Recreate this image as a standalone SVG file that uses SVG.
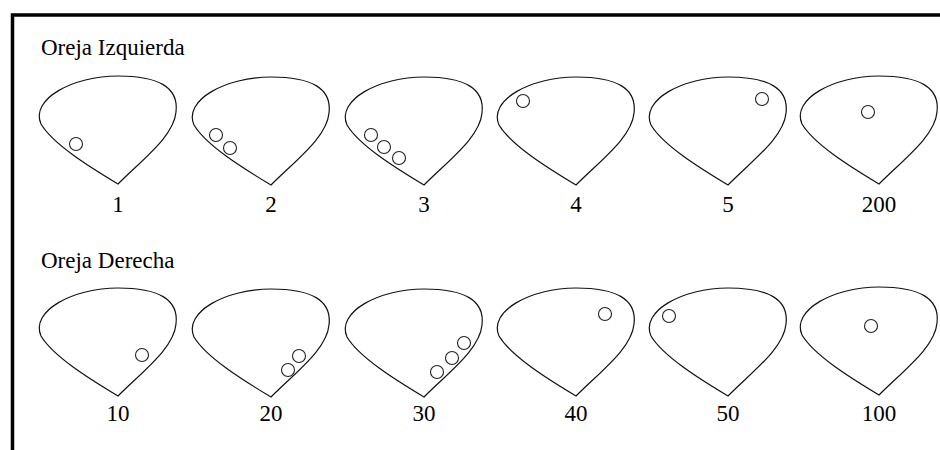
<svg xmlns="http://www.w3.org/2000/svg" xmlns:xlink="http://www.w3.org/1999/xlink" width="940" height="450" viewBox="0 0 940 450">
<style>
.ear{fill:none;stroke:#111;stroke-width:1.2}
.dot{fill:none;stroke:#222;stroke-width:1.1}
.t{font-family:"Liberation Serif","Times New Roman",serif;font-size:23px;fill:#000}
.lbl{text-anchor:middle}
.frame{fill:none;stroke:#000;stroke-width:3.5}
</style>
<defs>
<path id="ear" d="M0,0 C -30,-18 -65,-40 -77,-60 C -88,-85 -45,-108 0,-108 C 40,-108 61,-97 58,-72 C 56,-48 25,-25 0,0 Z"/>
</defs>
<rect width="940" height="450" fill="#fff"/>
<path class="frame" d="M12.5,450 V15 H940"/>
<text class="t" x="41" y="55">Oreja Izquierda</text>
<text class="t" x="41" y="268">Oreja Derecha</text>
<g id="ear1"><use xlink:href="#ear" class="ear" transform="translate(118,184)"/><circle class="dot" cx="76" cy="144" r="6.5"/><text class="t lbl" x="118" y="212">1</text></g>
<g id="ear2"><use xlink:href="#ear" class="ear" transform="translate(271,185)"/><circle class="dot" cx="216" cy="135" r="6.5"/><circle class="dot" cx="230" cy="148" r="6.5"/><text class="t lbl" x="271" y="212">2</text></g>
<g id="ear3"><use xlink:href="#ear" class="ear" transform="translate(424,185)"/><circle class="dot" cx="371" cy="135" r="6.5"/><circle class="dot" cx="384" cy="147" r="6.5"/><circle class="dot" cx="399" cy="158" r="6.5"/><text class="t lbl" x="424" y="212">3</text></g>
<g id="ear4"><use xlink:href="#ear" class="ear" transform="translate(576,185)"/><circle class="dot" cx="523" cy="101" r="6.5"/><text class="t lbl" x="576" y="212">4</text></g>
<g id="ear5"><use xlink:href="#ear" class="ear" transform="translate(728,185)"/><circle class="dot" cx="762" cy="99" r="6.5"/><text class="t lbl" x="728" y="212">5</text></g>
<g id="ear200"><use xlink:href="#ear" class="ear" transform="translate(879,184)"/><circle class="dot" cx="868" cy="112" r="6.5"/><text class="t lbl" x="879" y="212">200</text></g>
<g id="ear10"><use xlink:href="#ear" class="ear" transform="translate(118,396)"/><circle class="dot" cx="142" cy="355" r="6.5"/><text class="t lbl" x="118" y="421">10</text></g>
<g id="ear20"><use xlink:href="#ear" class="ear" transform="translate(271,397)"/><circle class="dot" cx="299" cy="356" r="6.5"/><circle class="dot" cx="288" cy="370" r="6.5"/><text class="t lbl" x="271" y="421">20</text></g>
<g id="ear30"><use xlink:href="#ear" class="ear" transform="translate(424,397)"/><circle class="dot" cx="464" cy="343" r="6.5"/><circle class="dot" cx="452" cy="358" r="6.5"/><circle class="dot" cx="437" cy="372" r="6.5"/><text class="t lbl" x="424" y="421">30</text></g>
<g id="ear40"><use xlink:href="#ear" class="ear" transform="translate(576,396)"/><circle class="dot" cx="605" cy="314" r="6.5"/><text class="t lbl" x="576" y="421">40</text></g>
<g id="ear50"><use xlink:href="#ear" class="ear" transform="translate(728,396)"/><circle class="dot" cx="669" cy="316" r="6.5"/><text class="t lbl" x="728" y="421">50</text></g>
<g id="ear100"><use xlink:href="#ear" class="ear" transform="translate(879,395)"/><circle class="dot" cx="871" cy="326" r="6.5"/><text class="t lbl" x="879" y="421">100</text></g>
</svg>
